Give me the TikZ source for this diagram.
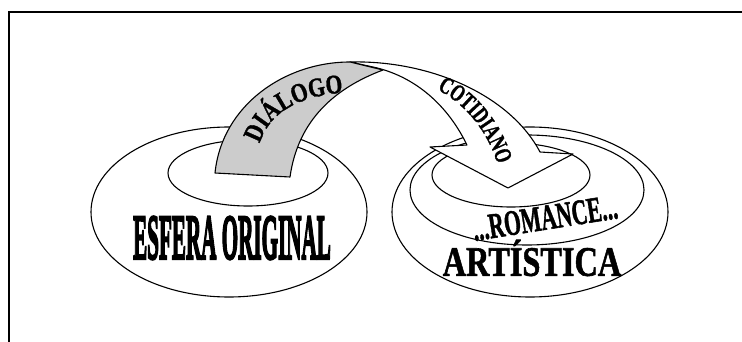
\documentclass[tikz,border=0pt]{standalone}
\usepackage{fontspec}
\setmainfont{Liberation Serif}
\newfontfamily\heavyfont[FakeBold=4]{Liberation Serif Bold}
\newfontfamily\boldfont[FakeBold=1.5]{Liberation Serif Bold}
\newfontfamily\ribbonfont[FakeStretch=0.8, FakeBold=1.2]{Liberation Serif Bold}
\newfontfamily\cotifont[FakeStretch=0.7, FakeBold=1.2]{Liberation Serif Bold}
\usetikzlibrary{decorations.text}

\begin{document}
\begin{tikzpicture}[x=1pt, y=1pt,
  ring/.style={draw, line width=1.1pt, fill=white},
  band/.style={draw, line width=1.1pt, line join=round},
  rotulo/.style={inner sep=0pt}]
\useasboundingbox (0,0) rectangle (742,-342);
% marco
\draw[line width=2pt] (8.5,-342) -- (8.5,-12.5) -- (742,-12.5);

% esfera original
\draw[ring] (229,-212) ellipse (138 and 85);
\draw[ring] (248,-173) ellipse (80 and 33);
% esfera artistica
\draw[ring] (530,-212) ellipse (138 and 85);
\draw[ring] (527,-190) ellipse (117 and 55);
\draw[ring] (511,-175) ellipse (79 and 32);

% cinta blanca con la flecha
\draw[band, fill=white] (350,-62) .. controls (430,-60) and (510,-95) .. (540,-152)
  -- (573,-154) -- (508,-188) -- (430,-147) -- (467,-145)
  .. controls (445,-100) and (410,-75) .. (373,-67) -- cycle;
% cinta gris
\draw[band, fill=gray!40] (215,-173) .. controls (222,-105) and (285,-62) .. (350,-62)
  -- (383,-70) .. controls (335,-88) and (298,-120) .. (290,-177) -- cycle;

% textos sobre la cinta
\path[decorate, decoration={text along path, text align=center,
  text={|\ribbonfont\fontsize{27}{27}\selectfont|DIÁLOGO}}]
  (258,-150) .. controls (266,-112) and (300,-95) .. (350,-92);
\path[decorate, decoration={text along path, text align=center,
  text={|\cotifont\fontsize{24}{24}\selectfont|COTIDIANO}}]
  (430,-86) .. controls (462,-100) and (488,-128) .. (500,-172);

% nombres
\node[rotulo] (orig) at (232,-238)
  {\heavyfont\fontsize{64}{64}\selectfont\scalebox{0.33}[1]{ESFERA ORIGINAL}};
\node[rotulo, rotate=9] (rom) at (545,-218)
  {\boldfont\fontsize{36}{36}\selectfont\scalebox{0.6}[1]{...ROMANCE...}};
\node[rotulo] (art) at (532,-258)
  {\boldfont\fontsize{42}{42}\selectfont\scalebox{0.77}[1]{ARTÍSTICA}};
\end{tikzpicture}
\end{document}
